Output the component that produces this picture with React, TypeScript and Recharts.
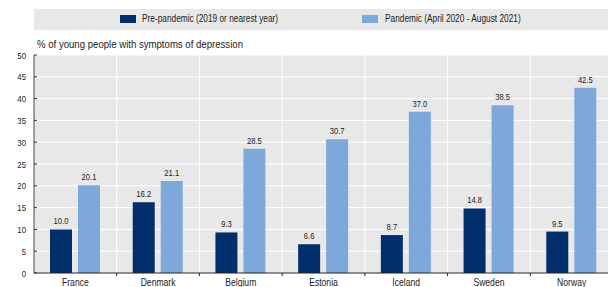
import React from "react";
import { BarChart, Bar, XAxis, YAxis, CartesianGrid, Legend, LabelList } from "recharts";

const countries = ["France", "Denmark", "Belgium", "Estonia", "Iceland", "Sweden", "Norway"];
const prePandemic = [10.0, 16.2, 9.3, 6.6, 8.7, 14.8, 9.5];
const pandemic = [20.1, 21.1, 28.5, 30.7, 37.0, 38.5, 42.5];
const yTicks = [0, 5, 10, 15, 20, 25, 30, 35, 40, 45, 50];

const seriesNames = ["Pre-pandemic (2019 or nearest year)", "Pandemic (April 2020 - August 2021)"];
const subtitle = "% of young people with symptoms of depression";

const data = countries.map((c, i) => ({ country: c, pre: prePandemic[i], pan: pandemic[i] }));

const FONT = "'Liberation Sans', Arial, sans-serif";
const DARK = "#002F6C";
const LIGHT = "#7FA8DA";
const BG = "#e8e8e8";

const NarrowText = ({ x, y, anchor, size, sx, children }: any) => (
  <text
    transform={`translate(${x},${y}) scale(${sx},1)`}
    textAnchor={anchor}
    fontSize={size}
    fill="#222"
    fontFamily={FONT}
  >
    {children}
  </text>
);

const YTick = (props: any) => {
  const { x, y, payload } = props;
  return (
    <g>
      <line x1={x + 8} x2={x + 11} y1={y} y2={y} stroke="#333" strokeWidth={1} />
      <NarrowText x={x} y={y + 3.5} anchor="end" size={9.5} sx={0.82}>
        {payload.value}
      </NarrowText>
    </g>
  );
};

const XTick = (props: any) => {
  const { x, y, payload, index, visibleTicksCount, width } = props;
  const bw = width / visibleTicksCount;
  return (
    <g>
      {index < visibleTicksCount - 1 && (
        <line x1={x + bw / 2} x2={x + bw / 2} y1={y} y2={y + 3} stroke="#222" strokeWidth={1} />
      )}
      <NarrowText x={x} y={y + 13} anchor="middle" size={10} sx={0.86}>
        {payload.value}
      </NarrowText>
    </g>
  );
};

const ValueLabel = (props: any) => {
  const { x, y, width, value } = props;
  return (
    <NarrowText x={Number(x) + Number(width) / 2} y={Number(y) - 5} anchor="middle" size={9.5} sx={0.8}>
      {Number(value).toFixed(1)}
    </NarrowText>
  );
};

const narrowSpan = (sx: number): React.CSSProperties => ({
  display: "inline-block",
  transform: `scaleX(${sx})`,
  transformOrigin: "left center",
  whiteSpace: "nowrap",
});

const LegendContent = () => (
  <div style={{ width: 580, height: 46, fontFamily: FONT, fontSize: 10, color: "#222", position: "relative" }}>
    <div style={{ position: "absolute", left: 0, top: 0, width: 580, height: 21, background: BG }}>
      <div style={{ position: "absolute", left: 86, top: 6, width: 16, height: 8, background: DARK }} />
      <div style={{ position: "absolute", left: 108, top: 4, lineHeight: "12px" }}>
        <span style={narrowSpan(0.83)}>{seriesNames[0]}</span>
      </div>
      <div style={{ position: "absolute", left: 328, top: 6, width: 16, height: 8, background: LIGHT }} />
      <div style={{ position: "absolute", left: 351, top: 4, lineHeight: "12px" }}>
        <span style={narrowSpan(0.83)}>{seriesNames[1]}</span>
      </div>
    </div>
    <div style={{ position: "absolute", left: 3, top: 30, lineHeight: "12px" }}>
      <span style={narrowSpan(0.96)}>{subtitle}</span>
    </div>
  </div>
);

export default function App() {
  return (
    <div style={{ position: "absolute", left: 0, top: 0, width: 608, height: 287, overflow: "hidden", background: "#fff" }}>
      <BarChart
        width={613}
        height={287}
        data={data}
        margin={{ top: 9, right: 0, bottom: 0, left: 0 }}
        barSize={22}
        barGap={6}
      >
        <Legend
          verticalAlign="top"
          align="left"
          height={46}
          wrapperStyle={{ top: 9, left: 34, width: 580 }}
          content={<LegendContent />}
        />
        <CartesianGrid
          fill={BG}
          fillOpacity={1}
          stroke="#ffffff"
          strokeWidth={1}
          verticalCoordinatesGenerator={(p: any) => {
            const off = p.offset;
            return [1, 2, 3, 4, 5, 6].map((i) => off.left + (i * off.width) / 7);
          }}
        />
        <XAxis
          dataKey="country"
          height={14}
          tickLine={false}
          tickSize={0}
          tickMargin={0}
          axisLine={{ stroke: "#222" }}
          tick={<XTick />}
          interval={0}
        />
        <YAxis
          width={34}
          domain={[0, 50]}
          ticks={yTicks}
          tickLine={false}
          tickSize={0}
          tickMargin={8}
          axisLine={{ stroke: "#444" }}
          tick={<YTick />}
          interval={0}
        />
        <Bar dataKey="pre" fill={DARK} isAnimationActive={false}>
          <LabelList dataKey="pre" content={<ValueLabel />} />
        </Bar>
        <Bar dataKey="pan" fill={LIGHT} isAnimationActive={false}>
          <LabelList dataKey="pan" content={<ValueLabel />} />
        </Bar>
      </BarChart>
    </div>
  );
}
